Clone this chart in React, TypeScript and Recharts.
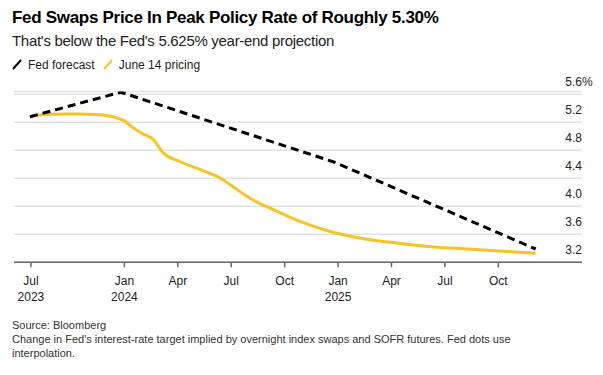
import { CartesianGrid, Line, LineChart, XAxis, YAxis } from "recharts";

// x = months since Jan 2023 (12 = Jan 2024)
const fedMonths = [6.7, 11.8, 23.8, 35.1];
const fedForecast = [5.28, 5.63, 4.63, 3.39];

const pricingMonths = [
  6.7, 7.5, 8.5, 9.5, 10.5, 11.5, 12.0, 12.5, 13.0, 13.6, 14.2, 15.1, 16.3, 17.4, 18.1, 18.9, 19.6, 20.4,
  21.9, 23.7, 25.6, 27.5, 29.4, 31.3, 33.1, 35.1,
];
const junePricing = [
  5.28, 5.31, 5.32, 5.32, 5.31, 5.27, 5.22, 5.12, 5.04, 4.96, 4.76, 4.64, 4.52, 4.4, 4.28, 4.14, 4.04, 3.95,
  3.78, 3.63, 3.53, 3.47, 3.42, 3.39, 3.36, 3.33,
];

const xTicks = [6.75, 12, 15, 18, 21, 24, 27, 30, 33];
const xTickLabels = [["Jul", "2023"], ["Jan", "2024"], ["Apr"], ["Jul"], ["Oct"], ["Jan", "2025"], ["Apr"], ["Jul"], ["Oct"]];
const yTicks = [3.2, 3.6, 4.0, 4.4, 4.8, 5.2, 5.6];

const fedData = fedMonths.map((m, i) => ({ m, v: fedForecast[i] }));
const pricingData = pricingMonths.map((m, i) => ({ m, v: junePricing[i] }));

const FONT = "'Liberation Sans', Arial, Helvetica, sans-serif";
const YELLOW = "#f7c325";

function XTick(props: any) {
  const { x, y, payload } = props;
  const idx = xTicks.indexOf(payload.value);
  const lines = xTickLabels[idx] || [];
  return (
    <g>
      {lines.map((t, i) => (
        <text key={i} x={x} y={y + 16 + i * 16} textAnchor="middle" fontSize={12} fill="#222" fontFamily={FONT}>
          {t}
        </text>
      ))}
    </g>
  );
}

function YTick(props: any) {
  const { x, y, payload } = props;
  const top = payload.value === 5.6;
  return (
    <g>
      <text x={x} y={y - 8} textAnchor="end" fontSize={12} fill="#222" fontFamily={FONT}>
        {payload.value.toFixed(1)}
      </text>
      {top && (
        <text x={x} y={y - 8} textAnchor="start" fontSize={12} fill="#222" fontFamily={FONT}>
          %
        </text>
      )}
    </g>
  );
}

function Slash({ color }: { color: string }) {
  return (
    <svg width={10} height={12} style={{ verticalAlign: "-1px", marginRight: 6 }}>
      <line x1={1} y1={11} x2={9} y2={2} stroke={color} strokeWidth={2} />
    </svg>
  );
}

export default function App() {
  return (
    <div style={{ position: "absolute", left: 0, top: 0, width: 603, height: 375, background: "#fff", fontFamily: FONT }}>
      <div
        style={{
          position: "absolute",
          left: 12,
          top: 7,
          fontSize: 17,
          lineHeight: "22px",
          fontWeight: 700,
          letterSpacing: -0.3,
          color: "#000",
          whiteSpace: "nowrap",
        }}
      >
        Fed Swaps Price In Peak Policy Rate of Roughly 5.30%
      </div>
      <div
        style={{
          position: "absolute",
          left: 12,
          top: 31,
          fontSize: 15,
          lineHeight: "20px",
          letterSpacing: -0.3,
          color: "#222",
          whiteSpace: "nowrap",
        }}
      >
        That's below the Fed's 5.625% year-end projection
      </div>
      <div style={{ position: "absolute", left: 12, top: 57, fontSize: 12, lineHeight: "16px", color: "#222", whiteSpace: "nowrap" }}>
        <Slash color="#000" />
        <span style={{ marginRight: 8 }}>Fed forecast</span>
        <Slash color={YELLOW} />
        <span>June 14 pricing</span>
      </div>
      <div style={{ position: "absolute", left: 0, top: 0 }}>
        <LineChart width={603} height={375} margin={{ top: 91.5, right: 20, left: 14, bottom: 72.7 }}>
          <CartesianGrid horizontal vertical={false} stroke="#e2e2e2" strokeWidth={1.5} />
          <XAxis
            dataKey="m"
            type="number"
            domain={[5.8, 37.7]}
            ticks={xTicks}
            allowDataOverflow
            height={40}
            stroke="#666"
            strokeWidth={1.5}
            tickSize={5}
            tick={<XTick />}
            interval={0}
          />
          <YAxis
            orientation="right"
            type="number"
            domain={[3.2, 5.64]}
            ticks={yTicks}
            allowDataOverflow
            width={1}
            axisLine={false}
            tickLine={false}
            tickSize={0}
            tickMargin={0}
            tick={<YTick />}
            interval={0}
          />
          <Line
            data={pricingData}
            dataKey="v"
            type="monotone"
            stroke={YELLOW}
            strokeWidth={3}
            dot={false}
            isAnimationActive={false}
          />
          <Line
            data={fedData}
            dataKey="v"
            type="linear"
            stroke="#000"
            strokeWidth={3}
            strokeDasharray="8 5"
            dot={false}
            isAnimationActive={false}
          />
        </LineChart>
      </div>
      <div style={{ position: "absolute", left: 12, top: 318, fontSize: 11, lineHeight: "14px", color: "#333" }}>
        Source: Bloomberg
        <br />
        Change in Fed's interest-rate target implied by overnight index swaps and SOFR futures. Fed dots use
        <br />
        interpolation.
      </div>
    </div>
  );
}
